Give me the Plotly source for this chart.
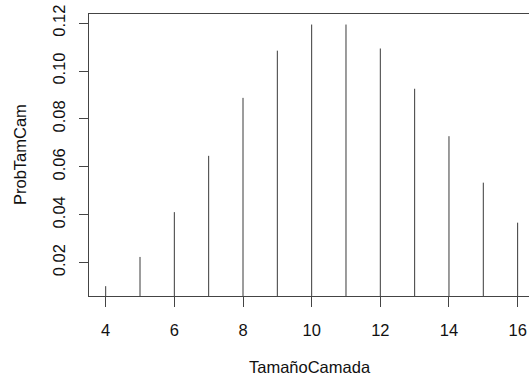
import plotly.graph_objects as go

tamano_camada = [4, 5, 6, 7, 8, 9, 10, 11, 12, 13, 14, 15, 16]
prob_tam_cam = [0.0102, 0.0224, 0.0411, 0.0646, 0.0888, 0.1085, 0.1194,
                0.1194, 0.1094, 0.0926, 0.0728, 0.0534, 0.0367]
x_ticks = [4, 6, 8, 10, 12, 14, 16]
y_ticks = [0.02, 0.04, 0.06, 0.08, 0.10, 0.12]

xs, ys = [], []
for x, p in zip(tamano_camada, prob_tam_cam):
    xs += [x, x, None]
    ys += [0, p, None]

fig = go.Figure()
fig.add_trace(go.Scatter(x=xs, y=ys, mode="lines",
                         line=dict(color="#3a3a3a", width=1),
                         hoverinfo="skip", showlegend=False))

font = dict(family="Liberation Sans, Arial, sans-serif", size=16.5, color="#111")
fig.update_layout(
    width=529, height=379,
    margin=dict(l=89, r=0, t=14, b=83),
    paper_bgcolor="white", plot_bgcolor="white",
    font=font,
    showlegend=False,
)
fig.update_xaxes(range=[3.514, 16.331], tickvals=x_ticks,
                 ticktext=[str(v) for v in x_ticks],
                 showgrid=False, zeroline=False,
                 showline=True, linecolor="#444", linewidth=1, mirror=True,
                 ticks="outside", ticklen=10, tickcolor="#444", tickwidth=1,
                 ticklabelstandoff=9)
fig.update_yaxes(range=[0.0061, 0.1238], tickvals=y_ticks,
                 ticktext=["%.2f" % v for v in y_ticks],
                 tickangle=-90,
                 showgrid=False, zeroline=False,
                 showline=True, linecolor="#444", linewidth=1,
                 ticks="outside", ticklen=9, tickcolor="#444", tickwidth=1,
                 ticklabelstandoff=7)

fig.add_annotation(text="TamañoCamada", xref="paper", yref="paper",
                   x=0.5 + (310 - (89 + 220)) / 440, y=-(367 - 296) / 282,
                   xanchor="center", yanchor="middle", showarrow=False, font=font)
fig.add_annotation(text="ProbTamCam", xref="paper", yref="paper",
                   x=-(89 - 20) / 440, y=(296 - 155) / 282, textangle=-90,
                   xanchor="center", yanchor="middle", showarrow=False, font=font)

fig.write_html("out.html")
